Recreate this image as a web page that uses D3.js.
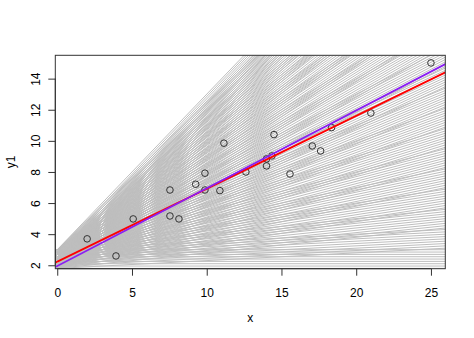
<!DOCTYPE html>
<html>
<head>
<meta charset="utf-8">
<script src="https://cdn.jsdelivr.net/npm/d3@7"></script>
<style>
  body { margin: 0; background: #fff; }
  svg { display: block; }
  text { font-family: "Liberation Sans", Arial, sans-serif; font-size: 12px; fill: #000; }
</style>
</head>
<body>
<svg id="chart" width="474" height="338"></svg>
<script>
// observed points
const xs = [2.0, 3.93, 5.08, 7.54, 7.54, 8.14, 9.26, 9.88, 9.88, 10.88, 11.15,
            12.62, 14.0, 14.36, 14.0, 14.5, 15.57, 17.06, 17.62, 18.35, 20.98, 25.0];
const y1 = [3.7, 2.6, 4.98, 6.84, 5.17, 4.98, 7.21, 7.92, 6.84, 6.8, 9.85,
            8.0, 8.84, 9.03, 8.39, 10.4, 7.87, 9.67, 9.35, 10.85, 11.79, 15.01];

// candidate lines (every intercept with every slope)
const gridIntercepts = [1.8, 1.95, 2.1, 2.25, 2.4, 2.55, 2.7, 2.85, 3.0];
const gridSlopes = [0, 0.05, 0.1, 0.15, 0.2, 0.25, 0.3, 0.35, 0.4, 0.45, 0.5,
                    0.55, 0.6, 0.65, 0.7, 0.75, 0.8, 0.85, 0.9, 0.95, 1.0];

// fitted lines: [intercept, slope]
const redFit = [2.23, 0.469];
const purpleFit = [1.95, 0.5];

const xTicks = [0, 5, 10, 15, 20, 25];
const yTicks = [2, 4, 6, 8, 10, 12, 14];

const width = 474, height = 338;
const margin = {top: 55.3, right: 474 - 445.3, bottom: 338 - 268.7, left: 55.3};

const x = d3.scaleLinear().domain([-0.13, 25.96]).range([margin.left, width - margin.right]);
const y = d3.scaleLinear().domain([1.78, 15.5]).range([height - margin.bottom, margin.top]);

const svg = d3.select('#chart');

svg.append('clipPath').attr('id', 'plotclip')
  .append('rect')
    .attr('x', x.range()[0]).attr('y', y.range()[1])
    .attr('width', x.range()[1] - x.range()[0])
    .attr('height', y.range()[0] - y.range()[1]);

const plot = svg.append('g').attr('clip-path', 'url(#plotclip)');

const [x0, x1] = x.domain();

const lines = [];
gridIntercepts.forEach(a => gridSlopes.forEach(b => lines.push({a: a, b: b})));

plot.append('g').selectAll('line').data(lines).join('line')
    .attr('x1', x(x0)).attr('x2', x(x1))
    .attr('y1', d => y(d.a + d.b * x0))
    .attr('y2', d => y(d.a + d.b * x1))
    .attr('stroke', '#bebebe')
    .attr('stroke-width', 1);

plot.append('g').selectAll('circle').data(xs).join('circle')
    .attr('cx', d => x(d))
    .attr('cy', (d, i) => y(y1[i]))
    .attr('r', 3.3)
    .attr('fill', 'none')
    .attr('stroke', '#222')
    .attr('stroke-width', 0.9);

const fits = [[redFit, '#ff0000'], [purpleFit, '#8a1ff2']];
plot.append('g').selectAll('line').data(fits).join('line')
    .attr('x1', x(x0)).attr('x2', x(x1))
    .attr('y1', d => y(d[0][0] + d[0][1] * x0))
    .attr('y2', d => y(d[0][0] + d[0][1] * x1))
    .attr('stroke', d => d[1])
    .attr('stroke-width', 1.8);

// box
svg.append('rect')
    .attr('x', x.range()[0]).attr('y', y.range()[1])
    .attr('width', x.range()[1] - x.range()[0])
    .attr('height', y.range()[0] - y.range()[1])
    .attr('fill', 'none').attr('stroke', '#333').attr('stroke-width', 1);

// R style axes
const xAxis = d3.axisBottom(x).tickValues(xTicks).tickSize(7).tickPadding(13).tickSizeOuter(0);
const gx = svg.append('g').attr('transform', 'translate(0,' + y.range()[0] + ')').call(xAxis);
gx.select('.domain').attr('d', 'M' + x(xTicks[0]) + ',0H' + x(xTicks[xTicks.length - 1])).attr('stroke', '#333');
gx.selectAll('.tick line').attr('stroke', '#333');
gx.selectAll('text').attr('font-size', 12).attr('font-family', null).attr('fill', '#000');

const yAxis = d3.axisLeft(y).tickValues(yTicks).tickSize(7).tickSizeOuter(0);
const gy = svg.append('g').attr('transform', 'translate(' + x.range()[0] + ',0)').call(yAxis);
gy.select('.domain').attr('d', 'M0,' + y(yTicks[0]) + 'V' + y(yTicks[yTicks.length - 1])).attr('stroke', '#333');
gy.selectAll('.tick line').attr('stroke', '#333');
gy.selectAll('.tick text')
    .attr('font-size', 12).attr('font-family', null).attr('fill', '#000')
    .attr('x', null).attr('dy', null)
    .attr('text-anchor', 'middle')
    .attr('transform', 'translate(-15.8,0) rotate(-90)');

svg.append('text')
    .attr('x', (x.range()[0] + x.range()[1]) / 2)
    .attr('y', 322)
    .attr('text-anchor', 'middle')
    .text('x');

svg.append('text')
    .attr('transform', 'translate(15,' + (y.range()[0] + y.range()[1]) / 2 + ') rotate(-90)')
    .attr('text-anchor', 'middle')
    .text('y1');
</script>
</body>
</html>
